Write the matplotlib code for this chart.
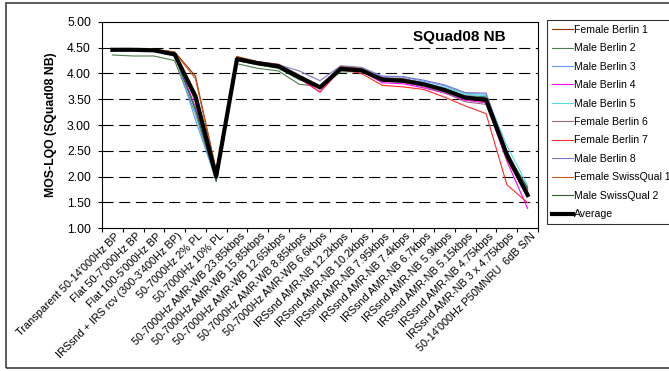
import matplotlib
matplotlib.use("Agg")
import matplotlib.pyplot as plt
from matplotlib.patches import Rectangle
import numpy as np

plt.rcParams['font.family'] = ['Liberation Sans', 'DejaVu Sans']

# test conditions on the x axis
conditions = [
    "Transparent 50-14'000Hz BP",
    "Flat 50-7'000Hz BP",
    "Flat 100-5'000Hz BP",
    "IRSsnd + IRS rcv (300-3'400Hz BP)",
    "50-7000Hz 2% PL",
    "50-7000Hz 10% PL",
    "50-7000Hz AMR-WB 23.85kbps",
    "50-7000Hz AMR-WB 15.85kbps",
    "50-7000Hz AMR-WB 12.65kbps",
    "50-7000Hz AMR-WB 8.85kbps",
    "50-7000Hz AMR-WB 6.6kbps",
    "IRSsnd AMR-NB 12.2kbps",
    "IRSsnd AMR-NB 10.2kbps",
    "IRSsnd AMR-NB 7.95kbps",
    "IRSsnd AMR-NB 7.4kbps",
    "IRSsnd AMR-NB 6.7kbps",
    "IRSsnd AMR-NB 5.9kbps",
    "IRSsnd AMR-NB 5.15kbps",
    "IRSsnd AMR-NB 4.75kbps",
    "IRSsnd AMR-NB 3 x 4.75kbps",
    "50-14'000Hz P50MNRU  6dB S/N",
]

# MOS-LQO per talker
female_berlin_1 = [4.48, 4.48, 4.47, 4.42, 3.95, 2.12, 4.33, 4.23, 4.18, 3.97, 3.76,
                   4.14, 4.10, 3.92, 3.90, 3.82, 3.70, 3.55, 3.52, 2.35, 1.62]
male_berlin_2 = [4.36, 4.34, 4.34, 4.25, 3.22, 1.90, 4.19, 4.10, 4.05, 3.79, 3.75,
                 4.03, 4.04, 3.88, 3.87, 3.80, 3.70, 3.57, 3.55, 2.45, 1.75]
male_berlin_3 = [4.47, 4.47, 4.46, 4.39, 3.10, 1.93, 4.27, 4.21, 4.14, 3.96, 3.76,
                 4.12, 4.08, 3.94, 3.93, 3.85, 3.76, 3.61, 3.60, 2.48, 1.70]
male_berlin_4 = [4.47, 4.47, 4.46, 4.38, 3.35, 1.98, 4.27, 4.20, 4.12, 3.90, 3.64,
                 4.08, 4.05, 3.82, 3.80, 3.72, 3.62, 3.48, 3.43, 2.30, 1.38]
male_berlin_5 = [4.47, 4.47, 4.46, 4.38, 3.25, 1.95, 4.28, 4.21, 4.14, 3.93, 3.72,
                 4.10, 4.07, 3.90, 3.88, 3.82, 3.73, 3.60, 3.57, 2.60, 1.82]
female_berlin_6 = [4.47, 4.47, 4.46, 4.39, 3.45, 2.02, 4.29, 4.21, 4.15, 3.94, 3.70,
                   4.09, 4.05, 3.85, 3.83, 3.74, 3.63, 3.45, 3.40, 2.38, 1.65]
female_berlin_7 = [4.47, 4.47, 4.46, 4.39, 3.50, 2.05, 4.29, 4.21, 4.14, 3.92, 3.64,
                   4.08, 4.00, 3.77, 3.74, 3.69, 3.54, 3.37, 3.22, 1.84, 1.49]
male_berlin_8 = [4.47, 4.47, 4.46, 4.39, 3.60, 2.00, 4.29, 4.23, 4.17, 4.05, 3.86,
                 4.15, 4.12, 3.95, 3.94, 3.87, 3.78, 3.63, 3.62, 2.50, 1.72]
female_swissqual_1 = [4.48, 4.48, 4.47, 4.41, 3.90, 2.10, 4.32, 4.22, 4.17, 3.95, 3.74,
                      4.13, 4.09, 3.90, 3.88, 3.80, 3.68, 3.50, 3.45, 2.33, 1.62]
male_swissqual_2 = [4.46, 4.46, 4.45, 4.35, 3.30, 1.92, 4.25, 4.17, 4.10, 3.88, 3.72,
                    4.07, 4.05, 3.88, 3.86, 3.79, 3.68, 3.55, 3.52, 2.45, 1.78]
average = [4.46, 4.46, 4.45, 4.37, 3.56, 2.00, 4.28, 4.20, 4.14, 3.93, 3.73,
           4.09, 4.06, 3.88, 3.86, 3.79, 3.68, 3.53, 3.49, 2.42, 1.64]

talkers = [
    ("Female Berlin 1", female_berlin_1, "#993300"),
    ("Male Berlin 2", male_berlin_2, "#4e7f4e"),
    ("Male Berlin 3", male_berlin_3, "#6699ff"),
    ("Male Berlin 4", male_berlin_4, "#ff00ff"),
    ("Male Berlin 5", male_berlin_5, "#55dddd"),
    ("Female Berlin 6", female_berlin_6, "#9c6684"),
    ("Female Berlin 7", female_berlin_7, "#ff2a2a"),
    ("Male Berlin 8", male_berlin_8, "#7b7bcc"),
    ("Female SwissQual 1", female_swissqual_1, "#cc5a1e"),
    ("Male SwissQual 2", male_swissqual_2, "#2f5f2f"),
]

W, H = 669, 371
fig = plt.figure(figsize=(W / 100, H / 100), dpi=100)
ax = fig.add_axes([102 / W, 1 - 228 / H, 436 / W, 206 / H])

x = np.arange(len(conditions))
for name, vals, col in talkers:
    ax.plot(x, vals, color=col, lw=0.8, label=name)
ax.plot(x, average, color="black", lw=3.0, label="Average")

ax.set_xlim(-0.5, len(conditions) - 0.5)
ax.set_ylim(1.0, 5.0)

# dashed horizontal gridlines
for yv in [1.5, 2.0, 2.5, 3.0, 3.5, 4.0, 4.5]:
    ax.axhline(yv, color="black", lw=0.8, dashes=(10, 5), zorder=0)

ax.set_yticks(np.arange(1.0, 5.01, 0.5))
ax.set_yticklabels(["%.2f" % v for v in np.arange(1.0, 5.01, 0.5)], fontsize=8.8)
ax.tick_params(axis="y", length=3, width=0.8, pad=5)

# category ticks sit between the categories, labels at the centres
ax.set_xticks(np.arange(-0.5, len(conditions), 1.0))
ax.set_xticklabels([])
ax.tick_params(axis="x", length=3, width=0.8)
for i, lab in enumerate(conditions):
    ax.text(i + 0.12, 0.94, lab, rotation=45, ha="right", va="top",
            rotation_mode="anchor", fontsize=7.8, clip_on=False)

for sp in ax.spines.values():
    sp.set_linewidth(0.8)

ax.set_ylabel("MOS-LQO (SQuad08 NB)", fontsize=8.8, fontweight="bold", labelpad=7)
ax.text(459 / W, 1 - 37 / H, "SQuad08 NB", transform=fig.transFigure, ha="center",
        va="center", fontsize=11, fontweight="bold")

leg = fig.legend(loc="upper left", bbox_to_anchor=(547 / W, 1 - 20 / H),
                 fontsize=7.6, frameon=True, fancybox=False, handlelength=2.0,
                 handletextpad=0.1, labelspacing=0.8, borderpad=0.45,
                 borderaxespad=0)
leg.get_frame().set_edgecolor("black")
leg.get_frame().set_linewidth(0.8)

# chart area border
fig.patches.append(Rectangle((6 / W, 3 / H), 1.2, 365 / H, transform=fig.transFigure,
                             fill=False, edgecolor="#404040", lw=1.2))

fig.savefig("out.png", dpi=100)
